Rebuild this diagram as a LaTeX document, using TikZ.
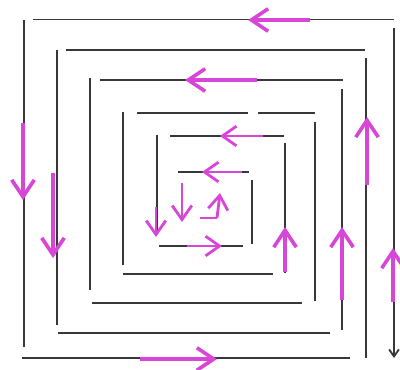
\documentclass[tikz,border=0pt]{standalone}
\usetikzlibrary{arrows.meta}

\begin{document}
\begin{tikzpicture}[
    x=0.025cm, y=-0.025cm,
    wall/.style = {
        line width=1.3pt,
        color={rgb,255:red,55;green,55;blue,60}
    },
    flow/.style = {
        -{Straight Barb[length=12pt,width=16pt]},
        line width=2.6pt,
        color={rgb,255:red,215;green,70;blue,215}
    },
    smallflow/.style = {
        flow,
        -{Straight Barb[length=10pt,width=14pt]},
        line width=2pt
    }
]

%% Fixed frame
\useasboundingbox (0,0) rectangle (400,369);

%% Top walls
\draw[wall] (33,19.5)  -- (394,19.5);
\draw[wall] (66,50)    -- (365,50);
\draw[wall] (100,80)   -- (343,80);
\draw[wall] (137,113)  -- (248,113);
\draw[wall] (258,113)  -- (315,113);
\draw[wall] (170,136)  -- (284,136);
\draw[wall] (178,172)  -- (249,172);

%% Left walls
\draw[wall] (24,20)    -- (24,347);
\draw[wall] (57,50)    -- (57,325);
\draw[wall] (90,78)    -- (90,290);
\draw[wall] (123,112)  -- (123,265);
\draw[wall] (157,135)  -- (157,233);

%% Bottom walls
\draw[wall] (22,358)   -- (350,358);
\draw[wall] (58,333)   -- (330,333);
\draw[wall] (92,303)   -- (302,303);
\draw[wall] (123,274)  -- (273,274);
\draw[wall] (159,246)  -- (243,246);

%% Right walls
\draw[wall, -{Straight Barb[length=5pt,width=7pt]}] (394,28) -- (394,358);
\draw[wall] (366,58)   -- (366,358);
\draw[wall] (342,89)   -- (342,330);
\draw[wall] (315,122)  -- (315,301);
\draw[wall] (285,143)  -- (285,273);
\draw[wall] (252,180)  -- (252,244);

%% Flow arrows along the spiral
\draw[flow] (310,20)  -- (248,20);
\draw[flow] (257,80)  -- (185,80);
\draw[smallflow] (263,136) -- (220,136);
\draw[smallflow] (242,172) -- (202,172);
\draw[flow] (23,123)  -- (23,200);
\draw[flow] (53,173)  -- (53,258);
\draw[smallflow] (156,207) -- (156,237);
\draw[smallflow] (182,183) -- (182,222);
\draw[smallflow] (217,218) -- (220,193);
\draw[line width=2pt, color={rgb,255:red,215;green,70;blue,215}]
    (200,218) -- (217,218);
\draw[smallflow] (187,246) -- (222,246);
\draw[flow] (285,272) -- (285,227);
\draw[flow] (342,300) -- (342,227);
\draw[flow] (367,185) -- (367,117);
\draw[flow] (393,302) -- (393,248);
\draw[flow] (140,359) -- (217,359);

\end{tikzpicture}
\end{document}
